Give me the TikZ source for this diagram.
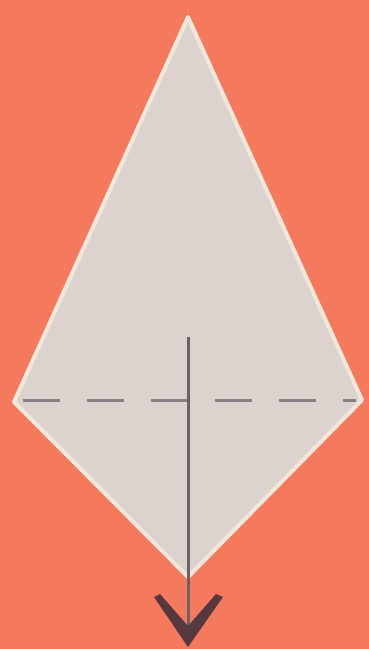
\documentclass[tikz,border=0pt]{standalone}
\definecolor{bg}{HTML}{F57A5D}
\definecolor{paper}{HTML}{DCD3CF}
\definecolor{rim}{HTML}{F3E7DC}
\definecolor{dashc}{HTML}{868083}
\definecolor{linec}{HTML}{6A6264}
\definecolor{headc}{HTML}{55393F}
\begin{document}
\begin{tikzpicture}[x=1pt,y=-1pt]
\fill[bg] (0,0) rectangle (369,649);
\useasboundingbox (0,0) rectangle (369,649);
\coordinate (T) at (188,17);
\coordinate (L) at (14,402);
\coordinate (R) at (362,400);
\coordinate (B) at (188,577);
\filldraw[fill=paper, draw=rim, line width=4pt, line join=round] (T) -- (R) -- (B) -- (L) -- cycle;
\coordinate (DL) at (23,400);
\coordinate (DR) at (356,400);
\draw[dashc, line width=3pt, dash pattern=on 37pt off 27pt] (DL) -- (DR);
\coordinate (S) at (188,337);
\coordinate (E) at (188,628);
\draw[linec, line width=3pt] (S) -- (E);
\fill[headc, line join=round] (154,597) -- (160,594) -- (188,626) -- (216,594) -- (223,597) -- (188,647) -- cycle;
\end{tikzpicture}
\end{document}
